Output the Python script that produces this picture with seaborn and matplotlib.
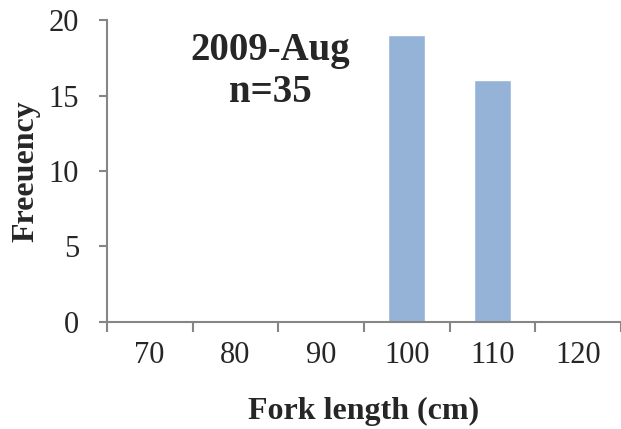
import matplotlib
matplotlib.use("Agg")
import matplotlib.pyplot as plt
import seaborn as sns
import pandas as pd
from matplotlib.ticker import FixedLocator

categories = ["70", "80", "90", "100", "110", "120"]
frequency = [0, 0, 0, 19, 16, 0]
y_ticks = [0, 5, 10, 15, 20]
title_text = "2009-Aug\nn=35"

sns.set_theme(style="white")
plt.rcParams['font.family'] = ['Liberation Serif', 'DejaVu Serif']

df = pd.DataFrame({"cat": categories, "freq": frequency})

fig = plt.figure(figsize=(6.21, 4.29), dpi=100)
ax = fig.add_axes([0.172, 0.250, 0.828, 0.703])
sns.barplot(data=df, x="cat", y="freq", color="#95B3D7", saturation=1,
            width=0.43, ax=ax, order=categories)

gray = "#868686"
ax.set_xlim(-0.5, len(categories) - 0.5)
ax.set_ylim(0, 20)
ax.set_yticks(y_ticks)
ax.set_yticklabels([str(t) for t in y_ticks], fontsize=22)
ax.set_xticks(range(len(categories)))
ax.set_xticklabels(categories, fontsize=22)
ax.tick_params(axis='x', which='major', length=0, pad=14)
ax.xaxis.set_minor_locator(FixedLocator([i - 0.5 for i in range(len(categories) + 1)]))
ax.tick_params(axis='x', which='minor', length=7, width=1.5, color=gray, direction='out', bottom=True)
ax.tick_params(axis='y', which='major', length=6, width=1.5, color=gray, direction='out', left=True, pad=14)

for s in ["top", "right"]:
    ax.spines[s].set_visible(False)
for s in ["left", "bottom"]:
    ax.spines[s].set_color(gray)
    ax.spines[s].set_linewidth(1.5)

ax.set_xlabel("Fork length (cm)", fontsize=23, fontweight="bold", labelpad=19)
ax.set_ylabel("Freeuency", fontsize=23, fontweight="bold", labelpad=6)

ax.text(1.41, 16.6, title_text, ha="center", va="center", fontsize=28,
        fontweight="bold", linespacing=1.2)

fig.savefig("out.png", dpi=100)
